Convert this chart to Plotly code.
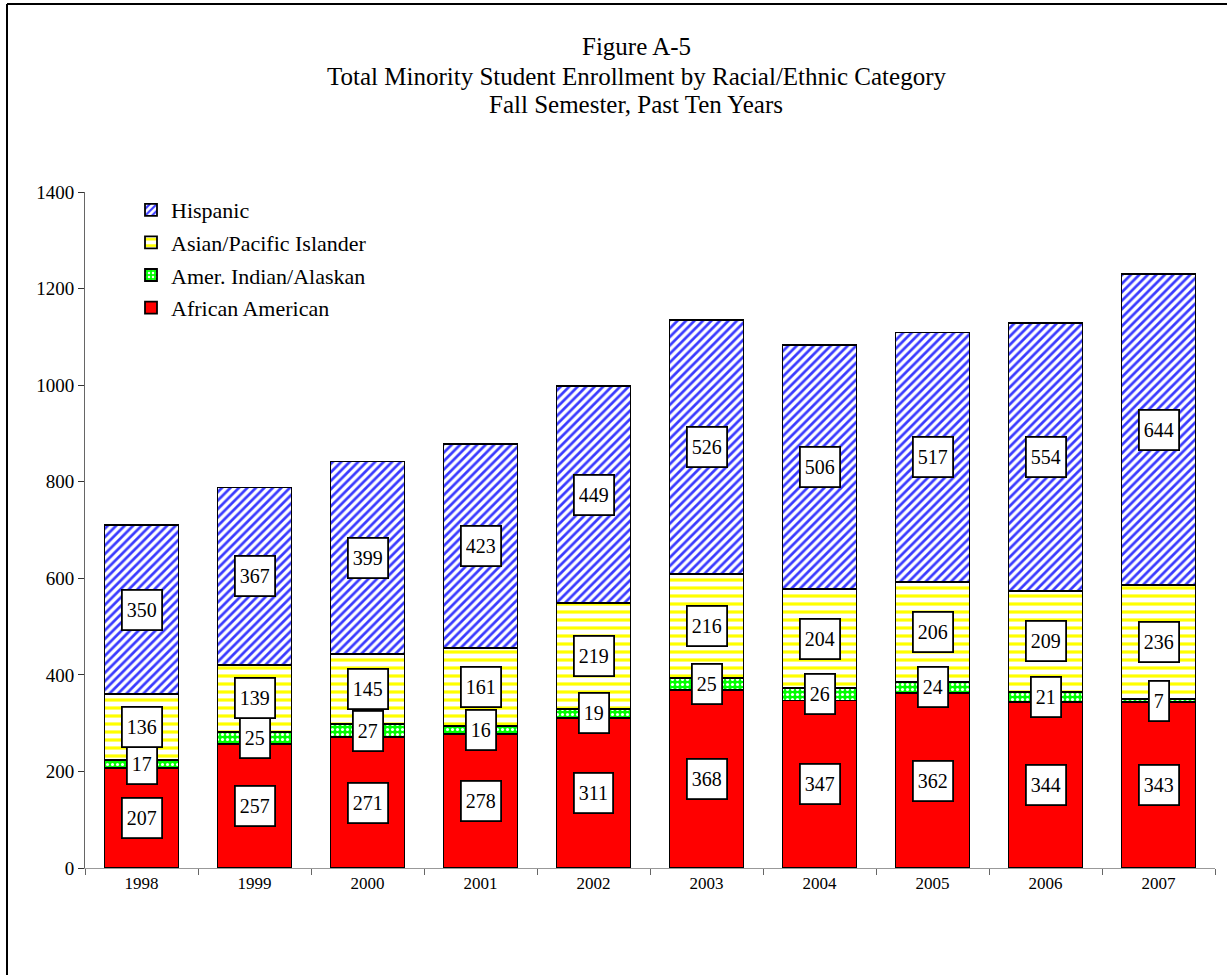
import plotly.graph_objects as go

years = ["1998", "1999", "2000", "2001", "2002", "2003", "2004", "2005", "2006", "2007"]
african_american = [207, 257, 271, 278, 311, 368, 347, 362, 344, 343]
amer_indian = [17, 25, 27, 16, 19, 25, 26, 24, 21, 7]
asian_pacific = [136, 139, 145, 161, 219, 216, 204, 206, 209, 236]
hispanic = [350, 367, 399, 423, 449, 526, 506, 517, 554, 644]
title_lines = ["Figure A-5",
               "Total Minority Student Enrollment by Racial/Ethnic Category",
               "Fall Semester, Past Ten Years"]

series = [
    ("African American", african_american,
     dict(color="#ff0000")),
    ("Amer. Indian/Alaskan", amer_indian,
     dict(color="#00ff00", pattern=dict(shape=".", bgcolor="#00ff00", fgcolor="#ffffff",
                                        size=5, solidity=0.3, fillmode="replace"))),
    ("Asian/Pacific Islander", asian_pacific,
     dict(color="#ffff00", pattern=dict(shape="-", bgcolor="#ffffff", fgcolor="#ffff00",
                                        size=8, solidity=0.4, fillmode="replace"))),
    ("Hispanic", hispanic,
     dict(color="#3333ff", pattern=dict(shape="/", bgcolor="#ffffff", fgcolor="#3a3aff",
                                        size=6, solidity=0.45, fillmode="replace"))),
]

SERIF = "Liberation Serif, Times New Roman, serif"

L, R, T, B = 85, 12, 192, 107
W, H = 1227, 975
pw, ph = W - L - R, H - T - B


def px_to_paper_x(px):
    return (px - L) / pw


def px_to_paper_y(py):
    return (H - B - py) / ph


fig = go.Figure()
annotations = []
base = [0] * len(years)
n = len(series)
for i, (name, vals, marker) in enumerate(series):
    marker = dict(marker)
    marker["line"] = dict(color="#000000", width=1.8)
    fig.add_trace(go.Bar(
        x=years, y=vals, name=name, marker=marker,
        legendgroup=f"g{i}", legendrank=n - i, hoverinfo="x+y+name",
    ))
    for j, v in enumerate(vals):
        annotations.append(dict(
            x=j, y=base[j] + v / 2, xref="x", yref="y",
            text=str(v), showarrow=False,
            font=dict(family=SERIF, size=20, color="#000000"),
            bgcolor="#ffffff", bordercolor="#000000", borderwidth=1.8,
            borderpad=4, height=30,
        ))
        base[j] += v

for k, (line, ypx) in enumerate(zip(title_lines, [47, 76, 104])):
    annotations.append(dict(
        x=px_to_paper_x(636), y=px_to_paper_y(ypx), xref="paper", yref="paper",
        text=line, showarrow=False, xanchor="center", yanchor="middle",
        font=dict(family=SERIF, size=25, color="#000000"),
    ))

frame_x = px_to_paper_x(7)
frame_y = px_to_paper_y(4)
shapes = [
    dict(type="line", xref="paper", yref="paper", x0=frame_x, x1=frame_x,
         y0=frame_y, y1=px_to_paper_y(990), line=dict(color="#000000", width=2)),
    dict(type="line", xref="paper", yref="paper", x0=frame_x, x1=px_to_paper_x(1240),
         y0=frame_y, y1=frame_y, line=dict(color="#000000", width=2)),
]

fig.update_layout(
    width=W, height=H,
    margin=dict(l=L, r=R, t=T, b=B, pad=0),
    paper_bgcolor="#ffffff", plot_bgcolor="#ffffff",
    barmode="stack", bargap=0.345,
    font=dict(family=SERIF, color="#000000"),
    showlegend=True,
    legend=dict(
        x=px_to_paper_x(131), y=px_to_paper_y(189), xanchor="left", yanchor="top",
        traceorder="grouped", tracegroupgap=1,
        font=dict(family=SERIF, size=22, color="#000000"),
        bgcolor="rgba(0,0,0,0)", itemwidth=30,
    ),
    xaxis=dict(
        type="category", showgrid=False, showline=True, linecolor="#999999", linewidth=1,
        ticks="outside", tickson="boundaries", ticklen=6, tickcolor="#666666",
        tickfont=dict(family=SERIF, size=17, color="#000000"),
        range=[-0.5, 9.5], fixedrange=True,
    ),
    yaxis=dict(
        range=[0, 1400], dtick=200, showgrid=False, zeroline=False,
        showline=True, linecolor="#666666", linewidth=1,
        ticks="outside", ticklen=6, tickcolor="#333333",
        tickfont=dict(family=SERIF, size=19, color="#000000"),
        fixedrange=True,
    ),
    annotations=annotations,
    shapes=shapes,
)

fig.write_html("out.html", config={"displayModeBar": False},
               post_script="document.body.style.margin='0';")
